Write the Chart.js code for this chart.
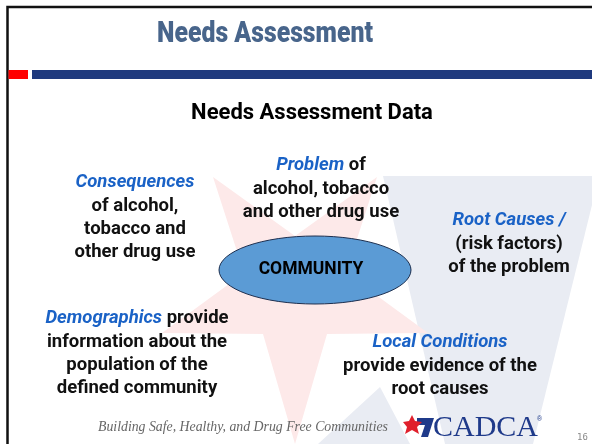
<!DOCTYPE html>
<html>
<head>
<meta charset="utf-8">
<script src="https://cdn.jsdelivr.net/npm/chart.js@4.4.1/dist/chart.umd.min.js"></script>
<style>
  html, body { margin: 0; padding: 0; background: #fff; overflow: hidden; }
  canvas { display: block; }
</style>
</head>
<body>
<canvas id="slide" width="592" height="444"></canvas>
<script>
// Slide texts
const slideTitle = 'Needs Assessment';
const chartTitle = 'Needs Assessment Data';
const centerLabel = 'COMMUNITY';
const footerText = 'Building Safe, Healthy, and Drug Free Communities';
const logoText = 'CADCA';
const pageNumber = '16';

// Text blocks around the centre, each line is a list of [text, isKeyword]
const blockLines = [
  [[['Consequences', 1]], [['of alcohol,', 0]], [['tobacco and', 0]], [['other drug use', 0]]],
  [[['Problem', 1], [' of', 0]], [['alcohol, tobacco', 0]], [['and other drug use', 0]]],
  [[['Root Causes /', 1]], [['(risk factors)', 0]], [['of the problem', 0]]],
  [[['Demographics', 1], [' provide', 0]], [['information about the', 0]], [['population of the', 0]], [['defined community', 0]]],
  [[['Local Conditions', 1]], [['provide evidence of the', 0]], [['root causes', 0]]]
];
// anchor (centre x, first line y) of each block, in slide units
const blockX = [135, 321, 509, 137, 440];
const blockY = [182.5, 165.5, 220.5, 318.5, 342.5];

// centre ellipse: centre and radii in slide units
const ellipseCenter = [315, 270];
const ellipseRadius = [96, 34];

// faint watermark shapes (star and flag) behind the text
const starPoints = [
  [213, 177], [295, 236], [377, 177], [346, 273], [428, 333],
  [327, 334], [295, 444], [263, 334], [162, 333], [244, 273]
];
const flagPoints = [[383, 176], [592, 176], [592, 205], [533, 444], [445, 444]];
const flagLowPoints = [[318, 444], [380, 387], [410, 444]];

// small logo next to the footer
const logoFlag = [[417, 418], [434, 418], [428, 437], [421, 437], [425, 425], [417, 425]];
const logoStar = [
  [403, 422], [409, 421], [412, 415], [415, 421], [422, 422],
  [417, 427], [419, 434], [412, 430], [405, 434], [407, 427]
];

const fontBody = 'Roboto, "Liberation Sans", sans-serif';

function poly(ctx, sx, sy, pts, color) {
  ctx.beginPath();
  pts.forEach((p, i) => {
    const px = sx.getPixelForValue(p[0]);
    const py = sy.getPixelForValue(p[1]);
    if (i === 0) ctx.moveTo(px, py); else ctx.lineTo(px, py);
  });
  ctx.closePath();
  ctx.fillStyle = color;
  ctx.fill();
}

function styledLine(ctx, parts, cx, cy, size) {
  const fonts = parts.map(p => (p[1] ? 'italic bold ' : 'bold ') + size + 'px ' + fontBody);
  let total = 0;
  const widths = parts.map((p, i) => { ctx.font = fonts[i]; const w = ctx.measureText(p[0]).width; total += w; return w; });
  let x = cx - total / 2;
  parts.forEach((p, i) => {
    ctx.font = fonts[i];
    ctx.fillStyle = p[1] ? '#1a62c6' : '#111111';
    ctx.textAlign = 'left';
    ctx.fillText(p[0], x, cy);
    x += widths[i];
  });
}

const slidePlugin = {
  id: 'slide',
  beforeDatasetsDraw(chart) {
    const { ctx, scales: { x, y } } = chart;
    ctx.save();
    poly(ctx, x, y, flagPoints, '#e9ecf3');
    poly(ctx, x, y, flagLowPoints, '#e9ecf3');
    poly(ctx, x, y, starPoints, '#fde9e9');

    // frame
    ctx.strokeStyle = '#111';
    ctx.lineWidth = 2.5;
    ctx.beginPath();
    ctx.moveTo(x.getPixelForValue(7.5), y.getPixelForValue(444));
    ctx.lineTo(x.getPixelForValue(7.5), y.getPixelForValue(7));
    ctx.lineTo(x.getPixelForValue(592), y.getPixelForValue(7));
    ctx.stroke();

    // header bars
    ctx.fillStyle = '#ff0000';
    ctx.fillRect(x.getPixelForValue(8.5), y.getPixelForValue(70), 19.5, 9);
    ctx.fillStyle = '#1f3a7e';
    ctx.fillRect(x.getPixelForValue(32), y.getPixelForValue(70), 560, 9);
    ctx.restore();
  },
  afterDatasetsDraw(chart) {
    const { ctx, scales: { x, y } } = chart;
    ctx.save();
    ctx.textBaseline = 'middle';
    ctx.textAlign = 'center';

    // title
    ctx.font = '900 29px ' + fontBody;
    ctx.fillStyle = '#48658b';
    ctx.fillText(slideTitle, x.getPixelForValue(265), y.getPixelForValue(35), 216);

    ctx.font = 'bold 22px ' + fontBody;
    ctx.fillStyle = '#000';
    ctx.fillText(chartTitle, x.getPixelForValue(312), y.getPixelForValue(113));

    // ellipse
    const ex = x.getPixelForValue(ellipseCenter[0]);
    const ey = y.getPixelForValue(ellipseCenter[1]);
    const rx = Math.abs(x.getPixelForValue(ellipseCenter[0] + ellipseRadius[0]) - ex);
    const ry = Math.abs(y.getPixelForValue(ellipseCenter[1] + ellipseRadius[1]) - ey);
    ctx.beginPath();
    ctx.ellipse(ex, ey, rx, ry, 0, 0, Math.PI * 2);
    ctx.fillStyle = '#5b9bd5';
    ctx.fill();
    ctx.lineWidth = 1;
    ctx.strokeStyle = '#1d2f4f';
    ctx.stroke();
    ctx.font = 'bold 17.5px ' + fontBody;
    ctx.fillStyle = '#000';
    ctx.textAlign = 'center';
    ctx.fillText(centerLabel, ex - 4, ey);

    // text blocks
    blockLines.forEach((lines, b) => {
      lines.forEach((parts, i) => {
        styledLine(ctx, parts, x.getPixelForValue(blockX[b]), y.getPixelForValue(blockY[b] + i * 23.4), 18.5);
      });
    });

    // footer
    ctx.textAlign = 'left';
    ctx.font = 'italic 13.8px "Liberation Serif", serif';
    ctx.fillStyle = '#666';
    ctx.fillText(footerText, x.getPixelForValue(98), y.getPixelForValue(427));

    poly(ctx, x, y, logoFlag, '#1f3a8a');
    poly(ctx, x, y, logoStar, '#e0202c');
    ctx.font = '30px "Liberation Serif", serif';
    ctx.fillStyle = '#1f3a8a';
    ctx.fillText(logoText, x.getPixelForValue(433), y.getPixelForValue(428));
    ctx.font = '7px "Liberation Sans", sans-serif';
    ctx.fillText('\u00ae', x.getPixelForValue(537), y.getPixelForValue(419));

    ctx.font = '9px "DejaVu Sans Mono", monospace';
    ctx.fillStyle = '#888';
    ctx.fillText(pageNumber, x.getPixelForValue(577), y.getPixelForValue(438));
    ctx.restore();
  }
};

new Chart(document.getElementById('slide'), {
  type: 'scatter',
  data: {
    datasets: [{
      label: centerLabel,
      data: [{ x: ellipseCenter[0], y: ellipseCenter[1] }],
      pointRadius: 0
    }]
  },
  options: {
    responsive: false,
    animation: false,
    layout: { padding: 0 },
    plugins: { legend: { display: false }, tooltip: { enabled: false } },
    scales: {
      x: { type: 'linear', min: 0, max: 592, display: false },
      y: { type: 'linear', min: 0, max: 444, reverse: true, display: false }
    }
  },
  plugins: [slidePlugin]
});
</script>
</body>
</html>
